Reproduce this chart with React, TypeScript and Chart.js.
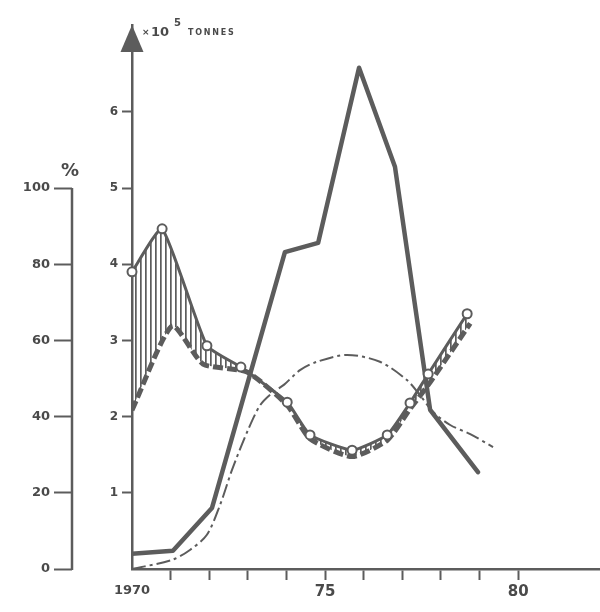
import React, { useEffect, useRef } from 'react';
import { Chart, registerables } from 'chart.js';

Chart.register(...registerables);

const INK = '#5c5c5c';
const TEXT = '#4a4a4a';
const FONT = '"DejaVu Sans", Verdana, sans-serif';

// axis ranges (tonnes axis and percent axis share the same vertical grid: 20% = 1 unit)
const TONNES_MAX = 7.14;
const PCT_MAX = TONNES_MAX * 20;
const YEAR_MIN = 1970;
const YEAR_MAX = 1982.12;

const YEAR_LABELS: Record<number, string> = { 1970: '1970', 1975: '75', 1980: '80' };
const TONNE_TICKS = [1, 2, 3, 4, 5, 6];
const PCT_TICKS = [0, 20, 40, 60, 80, 100];

// thick solid line (x10^5 tonnes)
const PROD_YEAR = [1970.0, 1971.06, 1972.07, 1973.96, 1974.82, 1975.88, 1976.81, 1977.72, 1978.96];
const PROD = [0.2, 0.24, 0.8, 4.16, 4.28, 6.58, 5.28, 2.09, 1.27];

// thin dash-dot line (x10^5 tonnes)
const THIN_YEAR = [1970.0, 1971.04, 1971.5, 1971.94, 1972.28, 1972.59, 1973.0, 1973.32, 1973.63, 1973.94, 1974.35, 1974.79, 1975.57, 1976.42, 1977.12, 1977.46, 1977.8, 1978.24, 1978.76, 1979.35];
const THIN = [0.0, 0.12, 0.25, 0.45, 0.84, 1.3, 1.82, 2.15, 2.31, 2.42, 2.61, 2.72, 2.81, 2.72, 2.48, 2.28, 2.06, 1.89, 1.77, 1.6];

// open-circle line (%)
const CIRCLE_YEAR = [1970.0, 1970.78, 1971.94, 1972.82, 1974.02, 1974.61, 1975.7, 1976.61, 1977.2, 1977.67, 1978.68];
const CIRCLE_PCT = [78.0, 89.3, 58.6, 53.0, 43.8, 35.2, 31.2, 35.2, 43.6, 51.2, 67.0];

// thick dashed line (%)
const DASH_YEAR = [1970.0, 1971.04, 1971.84, 1972.98, 1974.02, 1974.61, 1975.7, 1976.61, 1977.2, 1977.72, 1978.76];
const DASH_PCT = [41.7, 63.8, 53.8, 51.7, 43.0, 34.2, 29.5, 33.8, 42.0, 49.0, 64.5];

const pts = (xs: number[], ys: number[]) => xs.map((x, i) => ({ x, y: ys[i] }));
const near = (v: number, list: number[]) => list.some((t) => Math.abs(v - t) < 1e-6);

function makeHatch(): CanvasPattern | string {
  const c = document.createElement('canvas');
  c.width = 5;
  c.height = 8;
  const g = c.getContext('2d');
  if (!g) return INK;
  g.fillStyle = INK;
  g.fillRect(0, 0, 1.7, 8);
  return g.createPattern(c, 'repeat') || INK;
}

const decor = {
  id: 'decor',
  afterDraw(chart: any) {
    const { ctx } = chart;
    const y = chart.scales.y;
    const yp = chart.scales.yp;
    ctx.save();
    // percent axis line (0..100 only)
    ctx.strokeStyle = INK;
    ctx.lineWidth = 2.5;
    ctx.beginPath();
    ctx.moveTo(yp.right, yp.getPixelForValue(0) + 1);
    ctx.lineTo(yp.right, yp.getPixelForValue(100));
    ctx.stroke();
    // arrow head on tonnes axis
    const ax = y.right;
    const top = y.top;
    ctx.fillStyle = INK;
    ctx.beginPath();
    ctx.moveTo(ax, top);
    ctx.lineTo(ax - 11.5, top + 27);
    ctx.lineTo(ax + 11.5, top + 27);
    ctx.closePath();
    ctx.fill();
    // unit label
    ctx.fillStyle = TEXT;
    ctx.textBaseline = 'alphabetic';
    ctx.textAlign = 'left';
    ctx.font = `bold 9px ${FONT}`;
    ctx.fillText('\u00d7', ax + 10, 35);
    ctx.font = `bold 13px ${FONT}`;
    ctx.fillText('10', ax + 19, 36);
    ctx.font = `bold 10px ${FONT}`;
    ctx.fillText('5', ax + 42, 26);
    ctx.font = `bold 8px ${FONT}`;
    (ctx as any).letterSpacing = '1.8px';
    ctx.fillText('TONNES', ax + 56, 35);
    (ctx as any).letterSpacing = '0px';
    // percent sign
    ctx.font = `bold 18px ${FONT}`;
    ctx.textAlign = 'center';
    ctx.fillText('%', yp.right - 2, 176);
    ctx.restore();
  },
};

export default function App() {
  const ref = useRef<HTMLCanvasElement | null>(null);

  useEffect(() => {
    if (!ref.current) return;
    const hatch = makeHatch();
    const chart = new Chart(ref.current, {
      type: 'line',
      data: {
        datasets: [
          {
            label: 'circles',
            data: pts(CIRCLE_YEAR, CIRCLE_PCT),
            yAxisID: 'yp',
            borderColor: INK,
            borderWidth: 3,
            tension: 0.15,
            pointRadius: 4.5,
            pointBackgroundColor: '#ffffff',
            pointBorderColor: INK,
            pointBorderWidth: 2,
            clip: false,
            fill: { target: 1, above: hatch, below: 'rgba(0,0,0,0)' },
          } as any,
          {
            label: 'dashed',
            data: pts(DASH_YEAR, DASH_PCT),
            yAxisID: 'yp',
            borderColor: INK,
            borderWidth: 5,
            borderDash: [10, 4],
            tension: 0.2,
            pointRadius: 0,
            fill: false,
          },
          {
            label: 'thick',
            data: pts(PROD_YEAR, PROD),
            yAxisID: 'y',
            borderColor: INK,
            borderWidth: 4.5,
            borderJoinStyle: 'round',
            borderCapStyle: 'round',
            tension: 0,
            pointRadius: 0,
            fill: false,
          },
          {
            label: 'thin',
            data: pts(THIN_YEAR, THIN),
            yAxisID: 'y',
            borderColor: INK,
            borderWidth: 2,
            borderDash: [14, 4, 3, 4],
            tension: 0.3,
            pointRadius: 0,
            fill: false,
          },
        ],
      },
      options: {
        responsive: false,
        animation: false,
        devicePixelRatio: 1,
        layout: { autoPadding: false, padding: { top: 25, right: 0, left: 0, bottom: 0 } },
        plugins: {
          legend: { display: false },
          tooltip: { enabled: false },
          title: { display: false },
        },
        scales: {
          x: {
            type: 'linear',
            position: 'bottom',
            min: YEAR_MIN,
            max: YEAR_MAX,
            ticks: {
              stepSize: 1,
              autoSkip: false,
              maxRotation: 0,
              minRotation: 0,
              maxTicksLimit: 100,
              padding: 3,
              color: TEXT,
              font: (c: any) => ({
                family: FONT,
                weight: 'bold',
                size: c.tick && Math.abs(c.tick.value - 1970) < 1e-6 ? 13 : 15,
              }),
              callback: (v: any) => {
                const r = Math.round(Number(v));
                return Math.abs(Number(v) - r) < 1e-6 && YEAR_LABELS[r] ? YEAR_LABELS[r] : '';
              },
            },
            grid: {
              drawOnChartArea: false,
              drawTicks: true,
              tickLength: 11,
              tickWidth: 2,
              tickColor: (c: any) => {
                const v = c.tick ? c.tick.value : 0;
                return v > 1970.5 && v < 1980.5 ? INK : 'rgba(0,0,0,0)';
              },
            },
            border: { display: true, color: INK, width: 2.5 },
            afterFit: (s: any) => {
              s.height = 43;
              s.paddingRight = 0;
              s.paddingLeft = 0;
            },
          },
          y: {
            type: 'linear',
            position: 'left',
            weight: 0,
            min: 0,
            max: TONNES_MAX,
            ticks: {
              stepSize: 1,
              autoSkip: false,
              maxTicksLimit: 100,
              padding: 4,
              color: TEXT,
              font: { family: FONT, weight: 'bold', size: 12 },
              callback: (v: any) => (near(Number(v), TONNE_TICKS) ? String(Math.round(Number(v))) : ''),
            },
            grid: {
              drawOnChartArea: false,
              drawTicks: true,
              tickLength: 10,
              tickWidth: 2,
              tickColor: (c: any) => (c.tick && near(c.tick.value, TONNE_TICKS) ? INK : 'rgba(0,0,0,0)'),
            },
            border: { display: true, color: INK, width: 2.5 },
            afterFit: (s: any) => {
              s.width = 60;
            },
          },
          yp: {
            type: 'linear',
            position: 'left',
            weight: 1,
            min: 0,
            max: PCT_MAX,
            ticks: {
              stepSize: 20,
              autoSkip: false,
              maxTicksLimit: 100,
              padding: 4,
              color: TEXT,
              font: { family: FONT, weight: 'bold', size: 13 },
              callback: (v: any) => (near(Number(v), PCT_TICKS) ? String(Math.round(Number(v))) : ''),
            },
            grid: {
              drawOnChartArea: false,
              drawTicks: true,
              tickLength: 18,
              tickWidth: 2,
              tickColor: (c: any) => (c.tick && near(c.tick.value, PCT_TICKS) ? INK : 'rgba(0,0,0,0)'),
            },
            border: { display: false },
            afterFit: (s: any) => {
              s.width = 72;
            },
          },
        },
      } as any,
      plugins: [decor],
    });
    return () => chart.destroy();
  }, []);

  return (
    <div style={{ position: 'absolute', left: 0, top: 0, width: 600, height: 612, background: '#ffffff' }}>
      <canvas ref={ref} width={600} height={612} style={{ width: 600, height: 612, display: 'block' }} />
    </div>
  );
}
